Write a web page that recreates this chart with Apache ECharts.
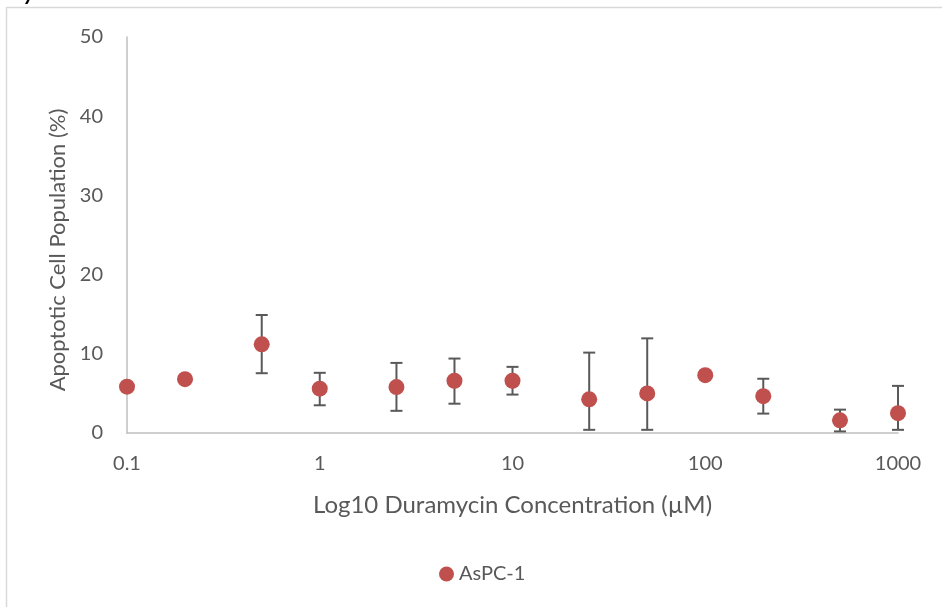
<!DOCTYPE html>
<html>
<head>
<meta charset="utf-8">
<script src="https://cdn.jsdelivr.net/npm/echarts@6/dist/echarts.min.js"></script>
<style>
  html, body { margin: 0; padding: 0; background: #ffffff; }
  #chart { width: 942px; height: 607px; }
</style>
</head>
<body>
<div id="chart"></div>
<script>
// Duramycin concentration (µM) for each measurement
const concentrations = [0.1, 0.2, 0.5, 1, 2.5, 5, 10, 25, 50, 100, 200, 500, 1000];
// Mean apoptotic cell population (%)
const apoptotic = [5.85, 6.8, 11.2, 5.6, 5.8, 6.6, 6.6, 4.25, 5.0, 7.3, 4.65, 1.6, 2.5];
// Error bar ends (%); null where no bar is shown
const errUpper = [null, null, 14.9, 7.6, 8.85, 9.4, 8.35, 10.15, 11.95, null, 6.85, 2.95, 5.95];
const errLower = [null, null, 7.55, 3.5, 2.8, 3.7, 4.85, 0.4, 0.4, null, 2.45, 0.2, 0.4];
const seriesName = 'AsPC-1';
const yTicks = [0, 10, 20, 30, 40, 50];

const font = 'Lato';
const textColor = '#595959';
const markColor = '#c0504d';

const points = concentrations.map((c, i) => [c, apoptotic[i]]);
const bars = concentrations
  .map((c, i) => [c, errLower[i], errUpper[i]])
  .filter(d => d[1] !== null);

const chart = echarts.init(document.getElementById('chart'), null, { renderer: 'canvas' });

chart.setOption({
  animation: false,
  backgroundColor: '#ffffff',
  grid: { left: 127, right: 44, top: 37, bottom: 174, containLabel: false },
  graphic: [
    {
      type: 'rect',
      shape: { x: 6.5, y: 7.5, width: 1000, height: 700 },
      style: { fill: 'none', stroke: '#d9d9d9', lineWidth: 1.5 },
      silent: true, z: -1
    },
    {
      type: 'text',
      left: 24, top: -18,
      style: { text: 'y', font: 'italic bold 22px ' + font, fill: '#000000' }
    }
  ],
  legend: {
    bottom: 18,
    left: 434,
    data: [seriesName],
    icon: 'circle',
    itemWidth: 15, itemHeight: 15,
    itemGap: 10,
    textStyle: { fontFamily: font, fontSize: 20, color: textColor }
  },
  xAxis: {
    type: 'log',
    logBase: 10,
    min: 0.1,
    max: 1000,
    name: 'Log10 Duramycin Concentration (µM)',
    nameLocation: 'middle',
    nameGap: 60,
    nameTextStyle: { fontFamily: font, fontSize: 24, color: textColor },
    axisLine: { show: true, lineStyle: { color: '#bfbfbf', width: 1.5 } },
    axisTick: { show: false },
    splitLine: { show: false },
    minorTick: { show: false },
    axisLabel: {
      fontFamily: font, fontSize: 20, color: textColor, margin: 21,
      formatter: v => String(+v.toPrecision(6))
    }
  },
  yAxis: {
    type: 'value',
    min: yTicks[0],
    max: yTicks[yTicks.length - 1],
    interval: 10,
    name: 'Apoptotic Cell Population (%)',
    nameLocation: 'middle',
    nameGap: 55,
    nameTextStyle: { fontFamily: font, fontSize: 22, color: textColor, padding: [0, 30, 0, 0] },
    axisLine: { show: true, lineStyle: { color: '#bfbfbf', width: 1.5 } },
    axisTick: { show: false },
    splitLine: { show: false },
    axisLabel: { fontFamily: font, fontSize: 20, color: textColor, margin: 24 }
  },
  series: [
    {
      name: 'error',
      type: 'custom',
      data: bars,
      z: 1,
      silent: true,
      renderItem: (params, api) => {
        const x = api.value(0);
        const lo = api.coord([x, api.value(1)]);
        const hi = api.coord([x, api.value(2)]);
        const half = 6;
        const style = { stroke: '#595959', lineWidth: 2 };
        return {
          type: 'group',
          children: [
            { type: 'line', shape: { x1: lo[0], y1: lo[1], x2: hi[0], y2: hi[1] }, style },
            { type: 'line', shape: { x1: hi[0] - half, y1: hi[1], x2: hi[0] + half, y2: hi[1] }, style },
            { type: 'line', shape: { x1: lo[0] - half, y1: lo[1], x2: lo[0] + half, y2: lo[1] }, style }
          ]
        };
      }
    },
    {
      name: seriesName,
      type: 'scatter',
      data: points,
      symbol: 'circle',
      symbolSize: 16,
      z: 3,
      itemStyle: { color: markColor, opacity: 1 }
    }
  ]
});
</script>
</body>
</html>
